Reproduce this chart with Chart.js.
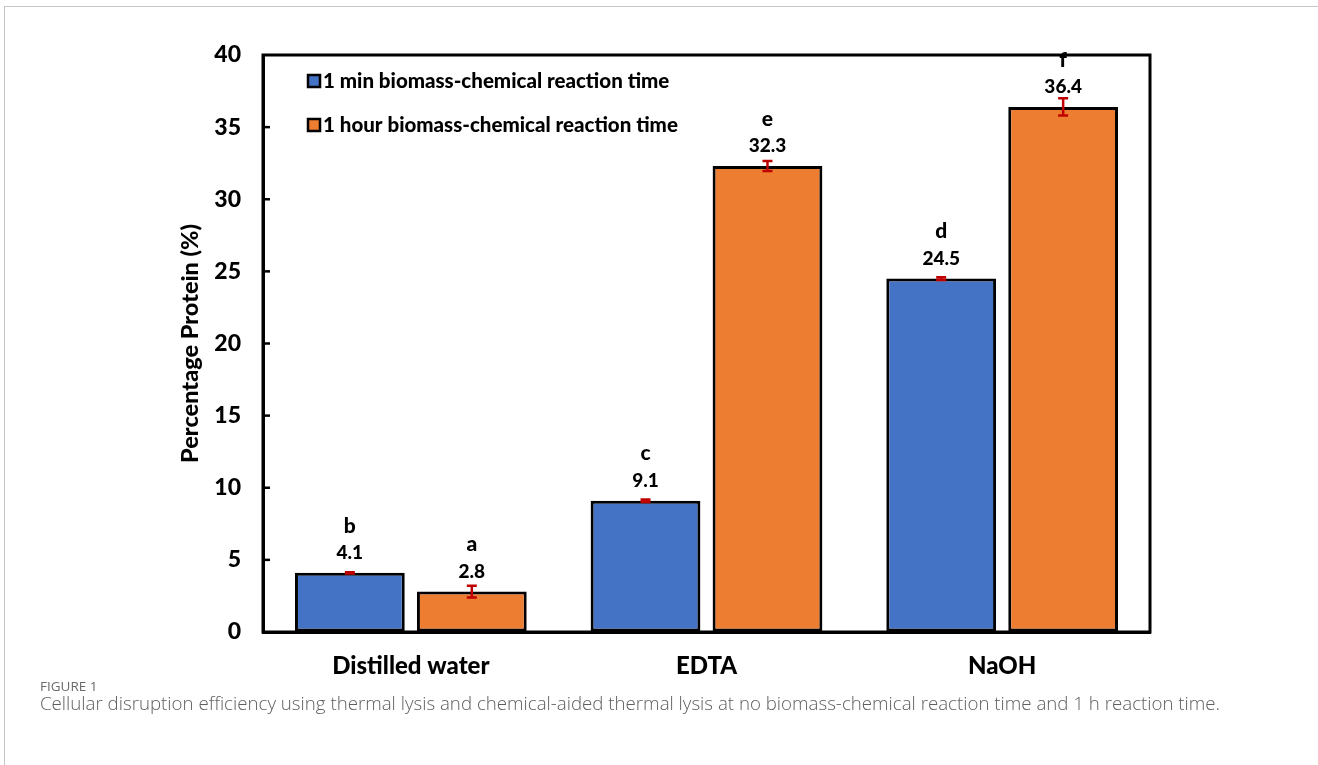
<!DOCTYPE html>
<html>
<head>
<meta charset="utf-8">
<script src="https://cdn.jsdelivr.net/npm/chart.js@4.4.1/dist/chart.umd.min.js"></script>
<style>
  html, body { margin: 0; padding: 0; background: #fff; }
  body { width: 1318px; height: 765px; position: relative; overflow: hidden; }
  .frame { position: absolute; left: 4px; top: 6px; width: 1400px; height: 800px;
           border-top: 1.5px solid #c6c6c6; border-left: 1.5px solid #c6c6c6; }
  #wrap { position: absolute; left: 0; top: 0; width: 1318px; height: 690px; }
  .fig { position: absolute; left: 40px; top: 677px; font-family: "Open Sans", sans-serif;
         font-size: 13.5px; color: #6a6a6a; }
  .cap { position: absolute; left: 40px; top: 690px; font-family: "Open Sans", sans-serif;
         font-size: 18.7px; font-weight: 300; color: #5e5e5e; }
</style>
</head>
<body>
<div class="frame"></div>
<div id="wrap"><canvas id="c"></canvas></div>
<div class="fig">FIGURE 1</div>
<div class="cap">Cellular disruption efficiency using thermal lysis and chemical-aided thermal lysis at no biomass-chemical reaction time and 1 h reaction time.</div>
<script>
// Treatments on the x axis
const categories = ["Distilled water", "EDTA", "NaOH"];
// Series names
const seriesNames = ["1 min biomass-chemical reaction time", "1 hour biomass-chemical reaction time"];
// Protein recovery (%) per treatment
const minuteValues = [4.1, 9.1, 24.5];
const hourValues = [2.8, 32.3, 36.4];
// Standard deviations
const minuteErrors = [0.05, 0.08, 0.1];
const hourErrors = [0.4, 0.35, 0.6];
// Significance letters
const minuteLetters = ["b", "c", "d"];
const hourLetters = ["a", "e", "f"];
// Y axis ticks
const yTicks = [0, 5, 10, 15, 20, 25, 30, 35, 40];

const BLUE = "#4472C4";
const ORANGE = "#ED7D31";
const ERR_RED = "#C00000";
const FONT = "Lato, 'Liberation Sans', sans-serif";
const W = "900";

const errorSets = [minuteErrors, hourErrors];
const letterSets = [minuteLetters, hourLetters];

// Frame around the plot area, inward y ticks, error bars, value labels and legend
const decorations = {
  id: "decorations",
  afterDatasetsDraw(chart) {
    const ctx = chart.ctx;
    const a = chart.chartArea;
    const y = chart.scales.y;
    ctx.save();
    // plot box
    ctx.strokeStyle = "#000";
    ctx.lineWidth = 3;
    ctx.strokeRect(a.left, a.top, a.right - a.left, a.bottom - a.top);
    // inward ticks
    ctx.lineWidth = 2.5;
    yTicks.forEach(v => {
      if (v === 0 || v === 40) return;
      const py = y.getPixelForValue(v);
      ctx.beginPath();
      ctx.moveTo(a.left, py);
      ctx.lineTo(a.left + 7, py);
      ctx.stroke();
    });
    // error bars and labels
    chart.data.datasets.forEach((ds, di) => {
      const meta = chart.getDatasetMeta(di);
      meta.data.forEach((bar, i) => {
        const v = ds.data[i];
        const e = errorSets[di][i];
        const cx = bar.x;
        const top = y.getPixelForValue(v);
        const hi = y.getPixelForValue(v + e);
        const lo = y.getPixelForValue(v - e);
        ctx.strokeStyle = ERR_RED;
        ctx.lineWidth = 2.5;
        ctx.beginPath();
        ctx.moveTo(cx, hi); ctx.lineTo(cx, lo);
        ctx.moveTo(cx - 5, hi); ctx.lineTo(cx + 5, hi);
        ctx.moveTo(cx - 5, lo); ctx.lineTo(cx + 5, lo);
        ctx.stroke();
        ctx.fillStyle = "#000";
        ctx.textAlign = "center";
        ctx.textBaseline = "middle";
        ctx.font = W + " 19px " + FONT;
        ctx.fillText(v.toFixed(1), cx, top - 20);
        ctx.font = W + " 21px " + FONT;
        ctx.fillText(letterSets[di][i], cx, top - 47);
      });
    });
    // legend inside the plot
    const colors = [BLUE, ORANGE];
    const rowsY = [a.top + 26, a.top + 70];
    seriesNames.forEach((name, k) => {
      const ly = rowsY[k];
      ctx.fillStyle = colors[k];
      ctx.fillRect(a.left + 45, ly - 6, 12, 12);
      ctx.strokeStyle = "#000";
      ctx.lineWidth = 2.5;
      ctx.strokeRect(a.left + 45, ly - 6, 12, 12);
      ctx.fillStyle = "#000";
      ctx.textAlign = "left";
      ctx.textBaseline = "middle";
      ctx.font = W + " 20.5px " + FONT;
      ctx.fillText(name, a.left + 60, ly);
    });
    ctx.restore();
  }
};

new Chart(document.getElementById("c"), {
  type: "bar",
  data: {
    labels: categories,
    datasets: [
      { label: seriesNames[0], data: minuteValues, backgroundColor: BLUE,
        borderColor: "#000", borderWidth: 3, borderSkipped: false },
      { label: seriesNames[1], data: hourValues, backgroundColor: ORANGE,
        borderColor: "#000", borderWidth: 3, borderSkipped: false }
    ]
  },
  options: {
    responsive: true,
    maintainAspectRatio: false,
    animation: false,
    layout: { padding: { left: 176, right: 168, top: 55, bottom: 8 } },
    datasets: { bar: { categoryPercentage: 0.825, barPercentage: 0.9 } },
    plugins: { legend: { display: false }, tooltip: { enabled: false } },
    scales: {
      x: {
        afterFit(s) { s.height = 50; },
        grid: { display: true, drawOnChartArea: false, drawTicks: false },
        border: { color: "#000", width: 3 },
        ticks: { color: "#000", padding: 20, font: { family: FONT, size: 24, weight: W } }
      },
      y: {
        min: 0, max: 40,
        afterFit(s) { s.width = 87; },
        afterBuildTicks(s) { s.ticks = yTicks.map(v => ({ value: v })); },
        grid: { display: true, drawOnChartArea: false, drawTicks: false },
        border: { color: "#000", width: 3 },
        ticks: { color: "#000", padding: 22, font: { family: FONT, size: 23, weight: W } },
        title: { display: true, text: "Percentage Protein (%)", color: "#000",
                 padding: 0, font: { family: FONT, size: 23.5, weight: W } }
      }
    }
  },
  plugins: [decorations]
});
</script>
</body>
</html>
